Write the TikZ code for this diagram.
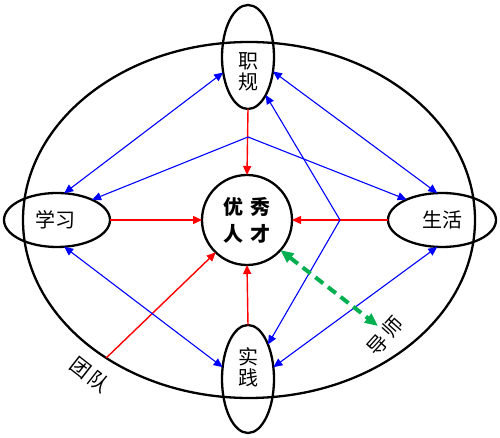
\documentclass[tikz,border=0pt]{standalone}
\usepackage{fontspec}
\usepackage{tikz}
\usetikzlibrary{arrows.meta,shapes.geometric,calc}
\newfontfamily\cjk{Noto Sans CJK SC}
\definecolor{LinkBlue}{HTML}{0000FF}
\definecolor{LinkRed}{HTML}{FF0000}
\definecolor{LinkGreen}{HTML}{00B050}

\begin{document}
\begin{tikzpicture}[x=1pt,y=1pt,
    >={Triangle[length=9pt,width=8pt]},
    oval/.style={draw,ellipse,line width=2.3pt,inner sep=0pt,outer sep=0pt},
    word/.style={font=\cjk\fontsize{20}{21}\selectfont,align=center,inner sep=0pt},
    red arr/.style={->,line width=1.4pt,LinkRed},
    blue arr/.style={->,line width=1.1pt,LinkBlue},
    blue both/.style={<->,line width=1.1pt,LinkBlue},
    green arr/.style={<->,>={Triangle[length=13pt,width=11pt]},line width=4pt,dash pattern=on 10pt off 6pt,LinkGreen}
  ]
    \useasboundingbox (0,0) rectangle (500,438);
    % rings
    \node[oval,minimum width=452pt,minimum height=356pt] (ring) at (249,218) {};
    \node[oval,minimum width=52pt,minimum height=104pt] (zg) at (248,381) {};
    \node[oval,minimum width=52pt,minimum height=108pt] (sj) at (248,59) {};
    \node[oval,minimum width=106pt,minimum height=54pt] (xx) at (57,218) {};
    \node[oval,minimum width=108pt,minimum height=54pt] (sh) at (442,218) {};
    \node[draw,circle,line width=2.3pt,minimum size=90pt,inner sep=0pt,outer sep=0pt,
      font=\cjk\bfseries\fontsize{20}{27}\selectfont,align=center] (rc) at (247,218) {优\hspace{7pt}秀\\人\hspace{7pt}才};
    % labels
    \node[word] (zgt) at (248,366) {职\\规};
    \node[word] (sjt) at (248,71) {实\\践};
    \node[word] (xxt) at (55,218) {学习};
    \node[word] (sht) at (442,218) {生活};
    \node[word,rotate=48] (ds) at (385,102) {导\hspace{3pt}师};
    \node[word,rotate=-38] (td) at (90,63) {团\hspace{3pt}队};
    \coordinate (jt) at (248,301);
    \coordinate (jr) at (340,218);
    \coordinate (dsp) at (378,112);
    % links
    \draw[red arr] (zg.south) -- (rc.north);
    \draw[red arr] (xx.east) -- (rc.west);
    \draw[red arr] (sh.west) -- (rc.east);
    \draw[red arr] (sj.north) -- (rc.south);
    \draw[red arr] (ring.224) -- (rc.226);
    \draw[blue arr] (jt) -- (xx.30); \draw[blue arr] (jt) -- (sh.150);
    \draw[blue arr] (jr) -- (zg.295); \draw[blue arr] (jr) -- (sj.60);
    \draw[blue both] (xx.75) -- (zg.212); \draw[blue both] (zg.330) -- (sh.100);
    \draw[blue both] (xx.285) -- (sj.155); \draw[blue both] (sh.260) -- (sj.25);
    \draw[green arr] (rc.318) -- (dsp);
  \end{tikzpicture}
\end{document}
